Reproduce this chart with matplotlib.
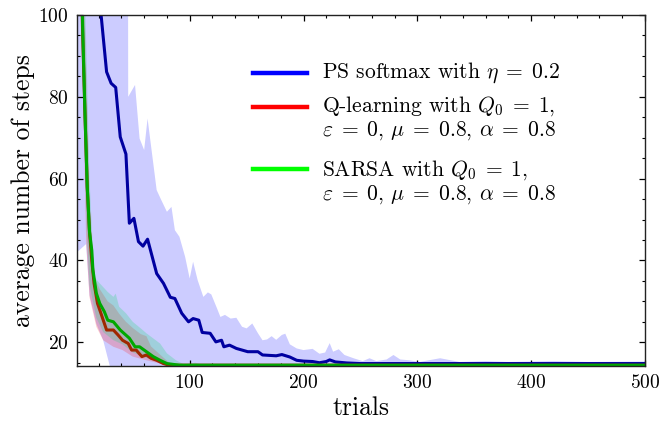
import matplotlib
matplotlib.use("Agg")
import matplotlib.pyplot as plt
from matplotlib.ticker import MultipleLocator

plt.rcParams["font.family"] = "serif"
plt.rcParams["font.serif"] = ["cmr10"]
plt.rcParams["mathtext.fontset"] = "cm"
plt.rcParams["axes.formatter.use_mathtext"] = True

# PS softmax: mean curve and band
ps_x = [1, 10, 18, 22, 24, 27, 31, 35, 39, 44, 47, 51, 55, 59, 63, 71, 77, 83, 87, 93,
        99, 103, 108, 111, 118, 123, 128, 130, 135, 141, 151, 160, 164, 176, 181, 188,
        194, 200, 208, 214, 220, 223, 228, 238, 250, 300, 400, 500]
ps_mean = [200, 140, 110, 100.5, 94.7, 86.1, 83.3, 82.3, 70.2, 66, 49.1, 50.3, 44.6, 43.5,
           45.2, 36.8, 34.4, 31.0, 30.7, 27.1, 25.0, 25.8, 25.4, 22.4, 22.2, 20.1, 20.5,
           18.9, 19.3, 18.5, 17.7, 17.7, 16.9, 16.7, 17.0, 16.4, 15.6, 15.4, 15.3, 15.0,
           15.3, 15.7, 15.2, 14.95, 14.8, 14.8, 14.8, 14.8]

ps_hi_x = [1, 45, 46, 52, 56, 60, 63, 71, 75, 80, 84, 87, 91, 96, 100, 103, 107, 112,
           116, 119, 124, 127, 131, 136, 141, 146, 150, 155, 160, 164, 168, 172, 176,
           181, 184, 188, 194, 200, 208, 214, 219, 223, 226, 231, 236, 244, 252, 258,
           264, 273, 279, 285, 293, 302, 320, 337, 360, 380, 420, 450, 500]
ps_hi = [300, 300, 80, 82.9, 69.8, 67, 74.7, 57.2, 54.8, 51.9, 53.1, 47.4, 45.8, 40.9,
         35.6, 39.7, 35.2, 31.1, 32.2, 31.7, 28.3, 26.2, 26.7, 25.8, 26.0, 23.8, 23.4,
         24.6, 22.2, 20.5, 20.7, 21.5, 20.6, 21.8, 22.1, 19.5, 18.5, 18.1, 18.4, 17.2,
         17.5, 19.8, 17.7, 18.3, 16.9, 16.1, 15.4, 16.1, 15.4, 15.8, 16.9, 15.8, 15.6,
         15.2, 16.1, 15.2, 15.4, 15.2, 15.4, 15.2, 15.3]
ps_lo_x = [1, 9, 12, 18, 24, 30, 500]
ps_lo = [42, 44, 31.5, 24.5, 20.5, 14, 14]

# Q-learning
q_x = [4, 6, 8, 10, 12, 14, 16, 19, 22, 27, 33, 37, 41, 46, 49, 53, 58, 62, 66, 71, 77, 82, 500]
q_mean = [120, 95, 76, 58, 47, 40, 34.4, 29.5, 27.1, 23.0, 23.0, 21.8, 20.5, 19.7, 18.1,
          18.1, 16.5, 16.9, 16.1, 15.6, 14.8, 14.4, 14.4]
q_hi_x = [5, 12, 16, 21, 28, 33, 38, 44, 50, 57, 62, 66, 74, 80, 85, 500]
q_hi = [130, 55, 36, 33, 30, 29, 27, 25, 23.5, 22, 21.5, 19, 17, 15.5, 14.5, 14.5]
q_lo_x = [5, 9, 12, 18, 24, 33, 41, 50, 62, 74, 80, 500]
q_lo = [100, 45, 31, 23.8, 20.5, 18.9, 18.1, 16.5, 15.6, 14.8, 14.2, 14.2]

# SARSA
s_x = [4, 6, 8, 10, 12, 14, 15, 18, 21, 25, 28, 33, 39, 47, 52, 56, 62, 68, 74, 80, 91, 500]
s_mean = [125, 97, 76, 58, 47, 42.5, 37.7, 32, 29.5, 27.5, 25.4, 25, 23, 21, 18.9, 18.9,
          17.7, 16.5, 15.6, 14.8, 14.4, 14.4]
s_hi_x = [5, 12, 16, 21, 28, 33, 35, 38, 44, 50, 57, 62, 74, 80, 88, 95, 105, 110, 500]
s_hi = [140, 60, 36, 34.4, 32.3, 31.1, 31.9, 28.7, 27.1, 25, 23.4, 22.2, 19.7, 17.3,
        15.6, 14.6, 15.0, 14.6, 14.6]
s_lo_x = [5, 9, 12, 18, 24, 33, 41, 50, 62, 74, 85, 500]
s_lo = [100, 50, 34, 26, 22.5, 20.5, 19.5, 17.5, 16.2, 15, 14.3, 14.3]

labels = [r"PS softmax with $\eta\;=\;0.2$",
          [r"Q-learning with $Q_0\;=\;1$,",
           r"$\varepsilon\;=\;0$, $\mu\;=\;0.8$, $\alpha\;=\;0.8$"],
          [r"SARSA with $Q_0\;=\;1$,",
           r"$\varepsilon\;=\;0$, $\mu\;=\;0.8$, $\alpha\;=\;0.8$"]]

fig = plt.figure(figsize=(6.62, 4.21), dpi=100)
ax = fig.add_axes([0.1163, 0.1306, 0.858, 0.8338])

ax.fill(ps_hi_x + ps_lo_x[::-1], ps_hi + ps_lo[::-1], color=(0, 0, 1, 0.2), lw=0)
ax.fill(q_hi_x + q_lo_x[::-1], q_hi + q_lo[::-1], color=(1, 0.1, 0.1, 0.22), lw=0)
ax.fill(s_hi_x + s_lo_x[::-1], s_hi + s_lo[::-1], color=(0.1, 0.85, 0.45, 0.25), lw=0)

ax.plot(ps_x, ps_mean, color="#0000a0", lw=2.2)
ax.plot(q_x, q_mean, color="#a02800", lw=2.2)
ax.plot(s_x, s_mean, color="#00a800", lw=2.2)

ax.set_xlim(1, 500)
ax.set_ylim(14.2, 100)
ax.xaxis.set_major_locator(MultipleLocator(100))
ax.xaxis.set_minor_locator(MultipleLocator(20))
ax.yaxis.set_major_locator(MultipleLocator(20))
ax.yaxis.set_minor_locator(MultipleLocator(5))
ax.tick_params(which="both", direction="in", top=True, right=True, labelsize=14)
ax.tick_params(which="major", length=4, width=0.9, pad=6)
ax.tick_params(which="minor", length=2, width=0.8)
for s in ax.spines.values():
    s.set_linewidth(1.0)
    s.set_color("#222222")

ax.set_xlabel("trials", fontsize=18.5, labelpad=3)
ax.set_ylabel("average number of steps", fontsize=18.5, labelpad=2)

# hand-made legend so the line sits next to the first text row
leg_colors = ["#0000ff", "#ff0000", "#00ff00"]
line_y = [0.835, 0.739, 0.561]
text_rows = [[0.835], [0.741, 0.670], [0.558, 0.487]]
for col, ly, rows, lab in zip(leg_colors, line_y, text_rows, labels):
    ax.plot([0.31, 0.405], [ly, ly], color=col, lw=3.2, transform=ax.transAxes, clip_on=False)
    if isinstance(lab, str):
        lab = [lab]
    for ty, t in zip(rows, lab):
        ax.text(0.431, ty, t, transform=ax.transAxes, fontsize=15.5, va="center", ha="left")

fig.savefig("out.png", dpi=100)
